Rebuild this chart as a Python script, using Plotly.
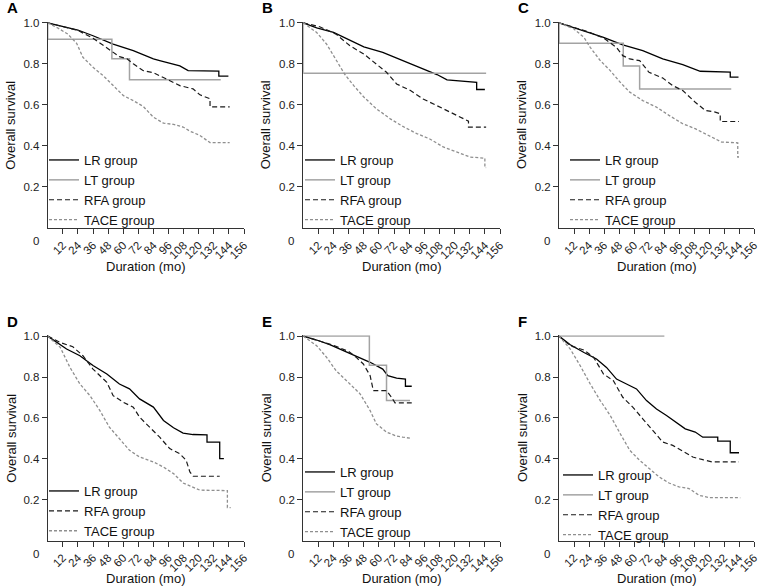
import plotly.graph_objects as go

# ---------------- data (months, overall survival) ----------------
A_LR_t = [0, 12, 24, 36, 52, 68, 84, 89, 94, 105, 111.6, 136, 136, 143.6]
A_LR_s = [1, 0.982, 0.965, 0.937, 0.896, 0.864, 0.824, 0.816, 0.807, 0.79, 0.767, 0.765, 0.74, 0.74]
A_LT_t = [0, 0, 51, 51, 65, 65, 137.5]
A_LT_s = [1, 0.92, 0.92, 0.825, 0.825, 0.723, 0.723]
A_RFA_t = [0, 12, 24, 36, 48, 57, 63, 68, 76, 84, 94, 105, 115.5, 121, 129, 129, 144.6]
A_RFA_s = [1, 0.983, 0.963, 0.925, 0.872, 0.835, 0.825, 0.80, 0.767, 0.757, 0.727, 0.694, 0.678, 0.649, 0.63, 0.59, 0.59]
A_TACE_t = [0, 8, 16, 23, 28, 36, 44, 52, 60, 68, 76, 84, 92, 100, 107.6, 113, 121, 129, 144.6]
A_TACE_s = [1, 0.975, 0.945, 0.90, 0.832, 0.783, 0.743, 0.694, 0.646, 0.621, 0.592, 0.54, 0.511, 0.505, 0.492, 0.472, 0.451, 0.416, 0.416]

B_LR_t = [0, 10.6, 24, 32, 48, 63, 74, 85, 95, 106, 114, 127, 137.5, 137.5, 144]
B_LR_s = [1, 0.975, 0.953, 0.929, 0.883, 0.856, 0.828, 0.799, 0.775, 0.748, 0.722, 0.715, 0.71, 0.675, 0.675]
B_LT_t = [0, 0, 145]
B_LT_s = [1, 0.754, 0.754]
B_RFA_t = [0, 13, 26, 37, 48, 58, 66, 74, 85, 95, 106, 116, 127, 131, 131, 145]
B_RFA_s = [1, 0.981, 0.945, 0.888, 0.848, 0.80, 0.759, 0.702, 0.67, 0.629, 0.597, 0.565, 0.532, 0.521, 0.492, 0.492]
B_TACE_t = [0, 10.6, 18.5, 26, 33, 40, 48, 58, 69, 79, 90, 100, 111, 122, 132, 144, 144, 145]
B_TACE_s = [1, 0.953, 0.896, 0.816, 0.748, 0.694, 0.638, 0.581, 0.532, 0.495, 0.46, 0.435, 0.395, 0.37, 0.346, 0.34, 0.294, 0.294]

C_LR_t = [0, 12, 25, 35.6, 51, 67, 83, 99, 113, 137, 137, 143.6]
C_LR_s = [1, 0.977, 0.953, 0.929, 0.893, 0.864, 0.824, 0.796, 0.764, 0.76, 0.735, 0.735]
C_LT_t = [0, 0, 51.4, 51.4, 64.5, 64.5, 137.8]
C_LT_s = [1, 0.9, 0.9, 0.79, 0.79, 0.678, 0.678]
C_RFA_t = [0, 12, 24, 36, 46, 51, 56.6, 64.5, 72, 83, 91, 99, 109, 117, 125, 129, 129, 144]
C_RFA_s = [1, 0.978, 0.955, 0.925, 0.88, 0.84, 0.824, 0.816, 0.759, 0.731, 0.694, 0.67, 0.613, 0.573, 0.565, 0.557, 0.519, 0.519]
C_TACE_t = [0, 12, 20, 25, 33, 41, 49, 56.6, 67, 78, 88, 99, 109, 120, 130, 143, 143, 144]
C_TACE_s = [1, 0.97, 0.929, 0.88, 0.816, 0.767, 0.71, 0.662, 0.621, 0.589, 0.549, 0.508, 0.484, 0.451, 0.419, 0.415, 0.346, 0.346]

D_LR_t = [0, 7, 15, 25.6, 36, 47, 57, 65, 73, 84, 92, 100, 107.6, 115.5, 126.6, 126.6, 136.7, 136.7, 140]
D_LR_s = [1, 0.969, 0.937, 0.904, 0.856, 0.815, 0.766, 0.742, 0.693, 0.653, 0.588, 0.552, 0.526, 0.519, 0.517, 0.482, 0.482, 0.401, 0.401]
D_RFA_t = [0, 10, 20, 28, 36, 47, 52, 60, 68, 73, 81, 89, 97, 105, 110, 113, 115.5, 136.7]
D_RFA_s = [1, 0.969, 0.948, 0.904, 0.839, 0.774, 0.709, 0.677, 0.653, 0.604, 0.555, 0.506, 0.45, 0.425, 0.393, 0.336, 0.315, 0.315]
D_TACE_t = [0, 10, 17.7, 25.6, 33.6, 41.5, 49, 57, 65, 73, 84, 92, 100, 107.6, 115.5, 121, 142.8, 142.8, 145.4]
D_TACE_s = [1, 0.945, 0.847, 0.766, 0.709, 0.636, 0.555, 0.498, 0.442, 0.409, 0.385, 0.36, 0.328, 0.282, 0.263, 0.247, 0.245, 0.162, 0.162]

E_LR_t = [0, 10.6, 21, 32, 42, 53, 63, 67, 74, 81, 81, 86]
E_LR_s = [1, 0.981, 0.958, 0.929, 0.904, 0.872, 0.839, 0.807, 0.795, 0.79, 0.755, 0.755]
E_LT_t = [0, 52.4, 52.4, 66, 66, 84.6]
E_LT_s = [1, 1, 0.857, 0.857, 0.685, 0.685]
E_RFA_t = [0, 12, 24, 36, 42, 47.6, 53, 55.5, 66, 70, 72.7, 86]
E_RFA_s = [1, 0.978, 0.955, 0.925, 0.896, 0.864, 0.807, 0.734, 0.734, 0.701, 0.674, 0.674]
E_TACE_t = [0, 10.6, 18.5, 26, 37, 45, 53, 58, 66, 74, 79, 86]
E_TACE_s = [1, 0.953, 0.896, 0.831, 0.766, 0.718, 0.636, 0.571, 0.531, 0.511, 0.506, 0.5]

F_LR_t = [0, 9, 20, 30, 38, 46, 54, 62, 70, 78, 86, 93.5, 101, 109, 115, 127, 127, 137, 137, 144]
F_LR_s = [1, 0.958, 0.92, 0.888, 0.847, 0.79, 0.766, 0.742, 0.685, 0.644, 0.612, 0.58, 0.547, 0.531, 0.506, 0.506, 0.487, 0.487, 0.43, 0.43]
F_LT_t = [0, 84.3]
F_LT_s = [1, 1]
F_RFA_t = [0, 9, 20, 27.7, 35.6, 43.5, 51, 59, 67, 75, 83, 91, 99, 107, 115, 122.5, 144]
F_RFA_s = [1, 0.953, 0.932, 0.896, 0.815, 0.782, 0.701, 0.653, 0.596, 0.539, 0.482, 0.466, 0.438, 0.409, 0.396, 0.385, 0.385]
F_TACE_t = [0, 9, 17, 25, 33, 41, 49, 56.6, 64.5, 72.5, 80, 88, 96, 104, 112, 120, 145]
F_TACE_s = [1, 0.937, 0.855, 0.766, 0.685, 0.612, 0.523, 0.442, 0.393, 0.352, 0.312, 0.282, 0.263, 0.255, 0.222, 0.211, 0.21]

panel_letters = ["A", "B", "C", "D", "E", "F"]
x_ticks = [12, 24, 36, 48, 60, 72, 84, 96, 108, 120, 132, 144, 156]
y_ticks = [0.2, 0.4, 0.6, 0.8, 1.0]
y_tick_labels = ["0.2", "0.4", "0.6", "0.8", "1.0"]

panels = {
    "A": [("LR group", A_LR_t, A_LR_s), ("LT group", A_LT_t, A_LT_s),
          ("RFA group", A_RFA_t, A_RFA_s), ("TACE group", A_TACE_t, A_TACE_s)],
    "B": [("LR group", B_LR_t, B_LR_s), ("LT group", B_LT_t, B_LT_s),
          ("RFA group", B_RFA_t, B_RFA_s), ("TACE group", B_TACE_t, B_TACE_s)],
    "C": [("LR group", C_LR_t, C_LR_s), ("LT group", C_LT_t, C_LT_s),
          ("RFA group", C_RFA_t, C_RFA_s), ("TACE group", C_TACE_t, C_TACE_s)],
    "D": [("LR group", D_LR_t, D_LR_s),
          ("RFA group", D_RFA_t, D_RFA_s), ("TACE group", D_TACE_t, D_TACE_s)],
    "E": [("LR group", E_LR_t, E_LR_s), ("LT group", E_LT_t, E_LT_s),
          ("RFA group", E_RFA_t, E_RFA_s), ("TACE group", E_TACE_t, E_TACE_s)],
    "F": [("LR group", F_LR_t, F_LR_s), ("LT group", F_LT_t, F_LT_s),
          ("RFA group", F_RFA_t, F_RFA_s), ("TACE group", F_TACE_t, F_TACE_s)],
}

styles = {
    "LR group": dict(color="#000000", width=1.3, dash="solid"),
    "LT group": dict(color="#a3a3a3", width=1.5, dash="solid"),
    "RFA group": dict(color="#1a1a1a", width=1.2, dash="5px,3px"),
    "TACE group": dict(color="#8f8f8f", width=1.3, dash="3px,2px"),
}

W, H = 762, 586
FONT = "Liberation Sans, Arial, Helvetica, sans-serif"
AX = "#333333"

# pixel layout of each panel: (x of y-axis, x of 156 tick) / (y of 1.0, y of 0)
col_px = [(47.7, 244.0), (303.3, 500.0), (559.0, 754.0)]
row_px = [(22.0, 228.0), (335.3, 540.7)]

fig = go.Figure()
layout = dict(
    width=W, height=H,
    margin=dict(l=0, r=0, t=0, b=0, autoexpand=False),
    paper_bgcolor="white", plot_bgcolor="white",
    font=dict(family=FONT, color="#222222", size=12),
    showlegend=True,
)
annotations = []

legend_pos = {  # (left px, center y px)
    "A": (44, 190), "B": (300, 190), "C": (565, 190),
    "D": (44, 511), "E": (300, 502), "F": (558, 505),
}

for i, letter in enumerate(panel_letters):
    r, c = divmod(i, 3)
    x0, x1 = col_px[c]
    ytop, ybot = row_px[r]
    n = i + 1
    xa = "x" if n == 1 else f"x{n}"
    ya = "y" if n == 1 else f"y{n}"
    lg = "legend" if n == 1 else f"legend{n}"
    for name, t, s in panels[letter]:
        st = styles[name]
        fig.add_trace(go.Scatter(
            x=t, y=s, mode="lines", name=name, xaxis=xa, yaxis=ya,
            legend=lg, line=dict(color=st["color"], width=st["width"], dash=st["dash"]),
            hoverinfo="skip",
        ))
    xkey = "xaxis" if n == 1 else f"xaxis{n}"
    ykey = "yaxis" if n == 1 else f"yaxis{n}"
    layout[xkey] = dict(
        domain=[x0 / W, x1 / W], anchor=ya, range=[0, 156],
        tickvals=x_ticks, ticktext=[str(v) for v in x_ticks], tickangle=-45,
        ticks="outside", ticklen=5, tickcolor=AX, tickwidth=1,
        showline=True, linecolor=AX, linewidth=1, showgrid=False, zeroline=False,
        tickfont=dict(size=11.5, color="#222222", family=FONT), automargin=False,
        ticklabeloverflow="allow",
    )
    layout[ykey] = dict(
        domain=[1 - ybot / H, 1 - ytop / H], anchor=xa, range=[0, 1.004],
        tickvals=y_ticks, ticktext=y_tick_labels,
        ticks="outside", ticklen=5, tickcolor=AX, tickwidth=1,
        showline=True, linecolor=AX, linewidth=1, showgrid=False, zeroline=False,
        tickfont=dict(size=11.5, color="#222222", family=FONT), automargin=False,
    )
    lx, ly = legend_pos[letter]
    layout[lg] = dict(
        x=lx / W, y=1 - ly / H, xanchor="left", yanchor="middle",
        bgcolor="rgba(0,0,0,0)", borderwidth=0,
        font=dict(size=13, family=FONT, color="#111111"),
        itemwidth=30, tracegroupgap=0,
    )
    # panel letter
    annotations.append(dict(
        text=f"<b>{letter}</b>", x=(x0 - 43) / W, y=1 - (ytop - 14) / H,
        xref="paper", yref="paper", xanchor="left", yanchor="middle",
        showarrow=False, font=dict(size=15, family=FONT, color="#000000"),
    ))
    # y axis title
    annotations.append(dict(
        text="Overall survival", x=(x0 - 37) / W, y=1 - ((ytop + ybot) / 2) / H,
        xref="paper", yref="paper", xanchor="center", yanchor="middle",
        textangle=-90, showarrow=False, font=dict(size=13, family=FONT, color="#111111"),
    ))
    # x axis title
    annotations.append(dict(
        text="Duration (mo)", x=((x0 + x1) / 2) / W, y=1 - (ybot + 38) / H,
        xref="paper", yref="paper", xanchor="center", yanchor="middle",
        showarrow=False, font=dict(size=13, family=FONT, color="#111111"),
    ))
    # origin label
    annotations.append(dict(
        text="0", x=(x0 - 12) / W, y=1 - (ybot + 13) / H,
        xref="paper", yref="paper", xanchor="center", yanchor="middle",
        showarrow=False, font=dict(size=11.5, family=FONT, color="#222222"),
    ))

layout["annotations"] = annotations
fig.update_layout(**layout)
fig.write_html(
    "out.html",
    config={"displayModeBar": False},
    post_script="document.body.style.margin='0';document.body.style.overflow='hidden';",
)
